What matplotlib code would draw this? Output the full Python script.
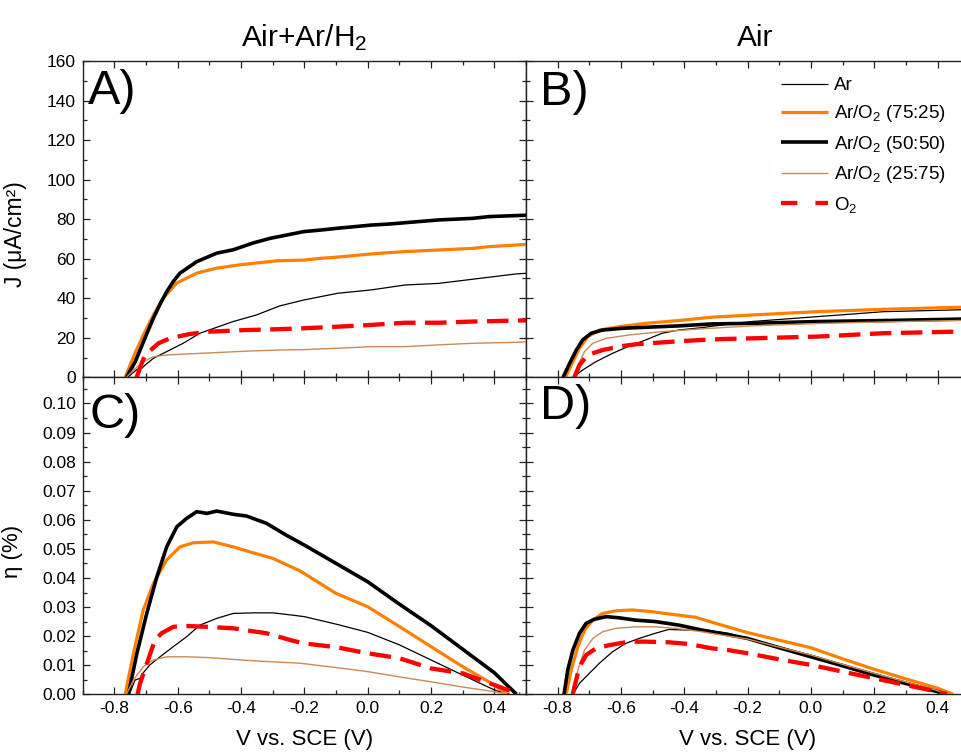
import matplotlib
matplotlib.use('Agg')
import matplotlib.pyplot as plt
from matplotlib.lines import Line2D
from matplotlib.ticker import MultipleLocator, FormatStrFormatter

plt.rcParams['font.family'] = ['Liberation Sans', 'DejaVu Sans']
plt.rcParams['mathtext.fontset'] = 'custom'
plt.rcParams['mathtext.rm'] = 'Liberation Sans'
plt.rcParams['mathtext.default'] = 'regular'
plt.rcParams['axes.unicode_minus'] = False

# ---- A) J-V, Air+Ar/H2 ----
a_ar_v = [-0.758, -0.729, -0.714, -0.703, -0.677, -0.635, -0.583, -0.53, -0.425, -0.352, -0.278, -0.202, -0.095, 0.011, 0.118, 0.224, 0.331, 0.469, 0.5]
a_ar_j = [0, 4.0, 4.5, 6.2, 9.6, 13.0, 17.2, 22.3, 28.2, 31.5, 36.1, 39.1, 42.5, 44.2, 46.7, 47.5, 49.6, 52.3, 52.6]
a_7525_v = [-0.766, -0.74, -0.709, -0.677, -0.646, -0.604, -0.54, -0.477, -0.404, -0.289, -0.202, -0.148, -0.095, 0.011, 0.118, 0.224, 0.331, 0.384, 0.469, 0.5]
a_7525_j = [0, 10.4, 21.4, 31.5, 40, 47.6, 52.7, 55.2, 56.9, 58.9, 59.3, 60.2, 60.8, 62.4, 63.6, 64.4, 65.2, 66.1, 66.9, 67.2]
a_5050_v = [-0.762, -0.734, -0.719, -0.698, -0.677, -0.656, -0.635, -0.614, -0.593, -0.54, -0.477, -0.425, -0.361, -0.308, -0.255, -0.202, -0.148, -0.095, -0.042, 0.011, 0.065, 0.118, 0.224, 0.331, 0.384, 0.469, 0.5]
a_5050_j = [0, 8, 13.8, 22, 29.9, 37, 43.3, 48.5, 52.7, 58.5, 62.8, 64.5, 68, 70.3, 72, 73.7, 74.5, 75.4, 76.2, 77, 77.5, 78.2, 79.6, 80.4, 81.3, 81.8, 82]
a_2575_v = [-0.762, -0.74, -0.709, -0.677, -0.635, -0.572, -0.477, -0.373, -0.278, -0.202, -0.095, 0.011, 0.118, 0.224, 0.331, 0.469, 0.5]
a_2575_j = [0, 3.7, 7.9, 10.4, 11.3, 11.8, 12.5, 13.3, 13.8, 14.0, 14.7, 15.5, 15.5, 16.4, 17.2, 17.7, 17.9]
a_o2_v = [-0.73, -0.714, -0.703, -0.661, -0.625, -0.562, -0.499, -0.383, -0.289, -0.202, -0.095, 0.011, 0.118, 0.224, 0.331, 0.469, 0.5]
a_o2_j = [0, 7, 11.3, 17.2, 19.7, 21.9, 23.1, 23.9, 24.3, 24.8, 25.6, 26.5, 27.6, 27.6, 28.2, 28.7, 28.8]

# ---- B) J-V, Air ----
b_ar_v = [-0.752, -0.721, -0.679, -0.627, -0.574, -0.522, -0.47, -0.418, -0.345, -0.303, -0.188, 0.021, 0.23, 0.46, 0.5]
b_ar_j = [0, 3.7, 7.9, 12.1, 15.8, 18.9, 22.3, 23.9, 25.1, 26.0, 28.2, 30.7, 33.2, 34.1, 34.3]
b_7525_v = [-0.775, -0.752, -0.731, -0.705, -0.668, -0.606, -0.522, -0.418, -0.313, -0.188, 0.021, 0.23, 0.46, 0.5]
b_7525_j = [0, 7.9, 14.7, 20.6, 23.9, 25.6, 27.3, 28.7, 30.4, 31.5, 33.2, 34.4, 35.4, 35.5]
b_5050_v = [-0.783, -0.762, -0.741, -0.721, -0.694, -0.658, -0.595, -0.522, -0.418, -0.313, -0.188, 0.021, 0.23, 0.46, 0.5]
b_5050_j = [0, 7.1, 13.8, 18.9, 22.3, 23.9, 24.8, 25.3, 26.0, 27.0, 27.3, 28.2, 28.7, 29.4, 29.6]
b_2575_v = [-0.752, -0.736, -0.715, -0.689, -0.647, -0.574, -0.47, -0.365, -0.261, -0.188, 0.021, 0.23, 0.46, 0.5]
b_2575_j = [0, 6.2, 13.0, 17.2, 19.7, 21.4, 23.1, 24.3, 25.3, 26.0, 27.2, 28.0, 28.7, 28.8]
b_o2_v = [-0.747, -0.731, -0.705, -0.658, -0.595, -0.553, -0.439, -0.345, -0.271, -0.188, 0.021, 0.23, 0.46, 0.5]
b_o2_j = [0, 6.2, 11.3, 13.8, 15.8, 16.7, 18.0, 18.9, 19.4, 19.7, 20.6, 22.3, 23.1, 23.2]

# ---- C) efficiency, Air+Ar/H2 ----
c_ar_v = [-0.753, -0.735, -0.719, -0.709, -0.688, -0.656, -0.614, -0.572, -0.53, -0.477, -0.425, -0.362, -0.299, -0.236, -0.2, -0.095, 0.0, 0.1, 0.2, 0.3, 0.4, 0.448]
c_ar_eta = [0, 0.0049, 0.0055, 0.0074, 0.0101, 0.0129, 0.0164, 0.0198, 0.0238, 0.0261, 0.0278, 0.028, 0.028, 0.0272, 0.0267, 0.024, 0.0213, 0.017, 0.0118, 0.0066, 0.0015, 0]
c_7525_v = [-0.766, -0.74, -0.709, -0.677, -0.635, -0.593, -0.551, -0.488, -0.425, -0.373, -0.299, -0.215, -0.1, 0.0, 0.1, 0.2, 0.3, 0.4, 0.44]
c_7525_eta = [0, 0.0141, 0.029, 0.0381, 0.0462, 0.0507, 0.0521, 0.0524, 0.0507, 0.049, 0.0467, 0.0425, 0.0347, 0.0301, 0.0233, 0.0164, 0.0095, 0.0032, 0]
c_5050_v = [-0.756, -0.729, -0.698, -0.666, -0.635, -0.603, -0.572, -0.54, -0.508, -0.477, -0.425, -0.383, -0.32, -0.257, -0.2, -0.1, 0.0, 0.1, 0.2, 0.3, 0.4, 0.47]
c_5050_eta = [0, 0.0141, 0.0278, 0.0404, 0.0507, 0.0576, 0.0605, 0.0628, 0.0622, 0.063, 0.0619, 0.0613, 0.0588, 0.0547, 0.0513, 0.045, 0.0387, 0.031, 0.0236, 0.0155, 0.0074, 0]
c_2575_v = [-0.762, -0.74, -0.709, -0.677, -0.635, -0.572, -0.499, -0.425, -0.341, -0.215, -0.1, 0.0, 0.1, 0.2, 0.3, 0.4, 0.437]
c_2575_eta = [0, 0.0049, 0.0095, 0.0118, 0.0129, 0.0129, 0.0126, 0.012, 0.0114, 0.0107, 0.0092, 0.0078, 0.006, 0.0043, 0.0025, 0.0009, 0]
c_o2_v = [-0.727, -0.719, -0.672, -0.651, -0.614, -0.572, -0.508, -0.425, -0.352, -0.32, -0.236, -0.2, -0.1, 0.0, 0.1, 0.2, 0.3, 0.4, 0.48]
c_o2_eta = [0, 0.0038, 0.0187, 0.021, 0.0232, 0.0235, 0.0232, 0.0227, 0.0215, 0.021, 0.0184, 0.0175, 0.0162, 0.0141, 0.0124, 0.0089, 0.0072, 0.0032, 0]

# ---- D) efficiency, Air ----
d_ar_v = [-0.752, -0.731, -0.7, -0.668, -0.627, -0.585, -0.543, -0.491, -0.449, -0.397, -0.334, -0.261, -0.2, -0.1, 0.0, 0.1, 0.2, 0.3, 0.4, 0.43]
d_ar_eta = [0, 0.0038, 0.0072, 0.0107, 0.0146, 0.0175, 0.0192, 0.021, 0.0223, 0.0221, 0.0221, 0.021, 0.0192, 0.0163, 0.0135, 0.0103, 0.0072, 0.0042, 0.0013, 0]
d_7525_v = [-0.773, -0.757, -0.736, -0.715, -0.689, -0.658, -0.616, -0.564, -0.501, -0.439, -0.365, -0.282, -0.2, -0.1, 0.0, 0.1, 0.2, 0.3, 0.4, 0.45]
d_7525_eta = [0, 0.0084, 0.0164, 0.0221, 0.0255, 0.0278, 0.0287, 0.029, 0.0284, 0.0275, 0.0265, 0.0238, 0.0212, 0.0186, 0.016, 0.0122, 0.0086, 0.0053, 0.0021, 0]
d_5050_v = [-0.78, -0.768, -0.752, -0.731, -0.71, -0.684, -0.647, -0.606, -0.553, -0.491, -0.418, -0.345, -0.271, -0.2, -0.1, 0.0, 0.1, 0.2, 0.3, 0.4, 0.429]
d_5050_eta = [0, 0.0084, 0.0152, 0.021, 0.0244, 0.0258, 0.0267, 0.0263, 0.0255, 0.025, 0.0238, 0.0221, 0.0207, 0.0192, 0.016, 0.0129, 0.0098, 0.0066, 0.0037, 0.0009, 0]
d_2575_v = [-0.752, -0.736, -0.715, -0.689, -0.658, -0.616, -0.553, -0.491, -0.428, -0.345, -0.261, -0.2, -0.1, 0.0, 0.1, 0.2, 0.3, 0.4, 0.43]
d_2575_eta = [0, 0.0084, 0.0152, 0.0192, 0.0215, 0.0227, 0.0232, 0.0232, 0.0227, 0.0215, 0.02, 0.019, 0.0162, 0.0135, 0.0103, 0.0072, 0.0042, 0.0013, 0]
d_o2_v = [-0.752, -0.747, -0.731, -0.71, -0.679, -0.637, -0.574, -0.522, -0.449, -0.386, -0.313, -0.261, -0.2, -0.1, 0.0, 0.1, 0.2, 0.3, 0.4, 0.43]
d_o2_eta = [0, 0.0026, 0.0095, 0.0135, 0.0158, 0.0169, 0.0181, 0.0181, 0.0179, 0.0173, 0.0158, 0.0152, 0.0141, 0.012, 0.0101, 0.0078, 0.0055, 0.0032, 0.0009, 0]

labels = ['Ar', 'Ar/O$_2$ (75:25)', 'Ar/O$_2$ (50:50)', 'Ar/O$_2$ (25:75)', 'O$_2$']
colors = ['black', '#FF8000', 'black', '#CC8A55', '#FF0000']
widths = [0.9, 2.3, 2.6, 1.0, 3.1]
dashed = [False, False, False, False, True]

col_titles = ['Air+Ar/H$_2$', 'Air']

W, H = 961, 753
fig = plt.figure(figsize=(W / 100, H / 100), dpi=100)

def box(x0, y0, x1, y1):
    # pixel box (top-left origin) -> figure fraction
    return [x0 / W, 1 - y1 / H, (x1 - x0) / W, (y1 - y0) / H]

axA = fig.add_axes(box(82.8, 61, 526, 377.3))
axB = fig.add_axes(box(526, 61, 969.2, 377.3))
axC = fig.add_axes(box(82.8, 377.3, 526, 694.3))
axD = fig.add_axes(box(526, 377.3, 969.2, 694.3))

panels = [
    (axA, [(a_ar_v, a_ar_j), (a_7525_v, a_7525_j), (a_5050_v, a_5050_j), (a_2575_v, a_2575_j), (a_o2_v, a_o2_j)]),
    (axB, [(b_ar_v, b_ar_j), (b_7525_v, b_7525_j), (b_5050_v, b_5050_j), (b_2575_v, b_2575_j), (b_o2_v, b_o2_j)]),
    (axC, [(c_ar_v, c_ar_eta), (c_7525_v, c_7525_eta), (c_5050_v, c_5050_eta), (c_2575_v, c_2575_eta), (c_o2_v, c_o2_eta)]),
    (axD, [(d_ar_v, d_ar_eta), (d_7525_v, d_7525_eta), (d_5050_v, d_5050_eta), (d_2575_v, d_2575_eta), (d_o2_v, d_o2_eta)]),
]

for ax, series in panels:
    for i, (v, y) in enumerate(series):
        ln, = ax.plot(v, y, color=colors[i], lw=widths[i],
                      solid_capstyle='butt', zorder=3 + (i == 4))
        if dashed[i]:
            ln.set_dashes([5, 2.2])
    ax.set_xlim(-0.9, 0.5)
    ax.xaxis.set_major_locator(MultipleLocator(0.2))
    ax.xaxis.set_minor_locator(MultipleLocator(0.1))
    ax.xaxis.set_major_formatter(FormatStrFormatter('%.1f'))
    ax.tick_params(which='both', direction='in', top=True, right=True,
                   labelsize=12.5, color='#222222')
    ax.tick_params(which='major', length=5, width=0.9)
    ax.tick_params(which='minor', length=3, width=0.9)
    ax.tick_params(axis='y', pad=5)
    ax.tick_params(axis='x', pad=5)
    for sp in ax.spines.values():
        sp.set_linewidth(1.0)
        sp.set_color('#222222')

for ax in (axA, axB):
    ax.set_ylim(0, 160)
    ax.yaxis.set_major_locator(MultipleLocator(20))
    ax.yaxis.set_minor_locator(MultipleLocator(10))
    ax.tick_params(labelbottom=False)

for ax in (axC, axD):
    ax.set_ylim(0, 0.109)
    ax.yaxis.set_major_locator(MultipleLocator(0.01))
    ax.yaxis.set_minor_locator(MultipleLocator(0.005))
    ax.yaxis.set_major_formatter(FormatStrFormatter('%.2f'))
    ax.set_xlabel('V vs. SCE (V)', fontsize=16)
    ax.xaxis.set_label_coords(0.5, -0.108)

for ax in (axB, axD):
    ax.tick_params(labelleft=False)

axA.set_ylabel('J (μA/cm²)', fontsize=16.5)
axA.yaxis.set_label_coords(-0.125, 0.453)
axC.set_ylabel('η (%)', fontsize=16)
axC.yaxis.set_label_coords(-0.135, 0.45)

axA.set_title(col_titles[0], fontsize=21.5, pad=11)
axB.set_title(col_titles[1], fontsize=21.5, pad=11, x=0.517)

for ax, tag, x, y in [(axA, 'A)', 0.012, 0.975), (axB, 'B)', 0.032, 0.97),
                      (axC, 'C)', 0.014, 0.952), (axD, 'D)', 0.032, 0.978)]:
    ax.text(x, y, tag, transform=ax.transAxes, fontsize=35, va='top', ha='left', zorder=6)

# legend keys drawn with their own dash spacing
handles = []
for i in range(len(labels)):
    h = Line2D([], [], color=colors[i], lw=widths[i], solid_capstyle='butt')
    if dashed[i]:
        h.set_dashes([3.8, 4.2])
    handles.append(h)

axB.legend(handles, labels, loc='upper left', bbox_to_anchor=(781 / W, 1 - 77 / H),
           bbox_transform=fig.transFigure, frameon=False, fontsize=13.5,
           handlelength=2.5, handletextpad=0.3, labelspacing=0.5,
           borderpad=0, borderaxespad=0)

fig.savefig('out.png', dpi=100)
